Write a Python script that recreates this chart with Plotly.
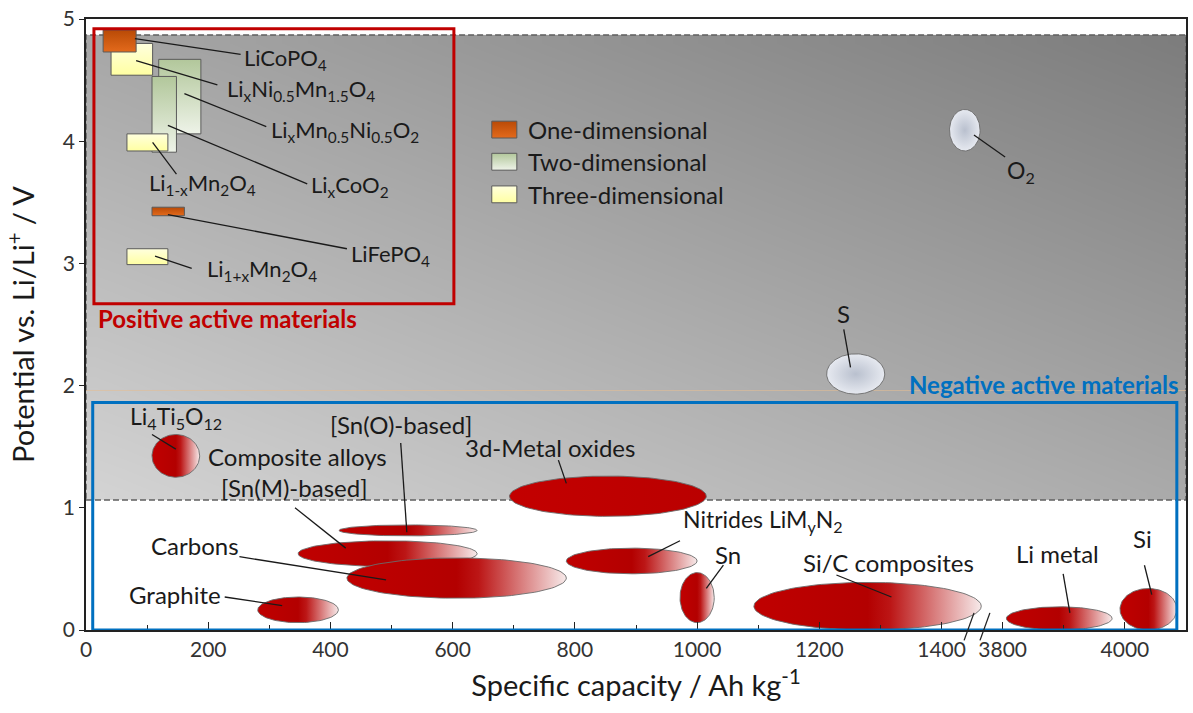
import numpy as np
import plotly.graph_objects as go

# ---------------------------------------------------------------------------
# Capacity axis is broken between ~1450 and ~3750 Ah/kg: values beyond the
# break are shifted left so the axis runs continuously from 0 to 1800 units.
# ---------------------------------------------------------------------------
SHIFT = 2300
X_END = 1800          # axis units (4100 Ah/kg)


def xa(c):
    """Capacity (Ah/kg) -> position on the broken capacity axis."""
    return c - SHIFT if c >= 2600 else c


# ---- positive active materials (rectangles: capacity window x potential window)
pos_names = ["LixMn0.5Ni0.5O2", "LixCoO2", "LixNi0.5Mn1.5O4", "Li1-xMn2O4",
             "Li1+xMn2O4", "LiCoPO4", "LiFePO4"]
pos_dim = [2, 2, 3, 3, 3, 1, 1]                 # diffusion dimensionality
pos_cap_lo = [119, 108, 41, 67, 67, 28, 108]
pos_cap_hi = [188, 148, 109, 134, 134, 82, 161]
pos_v_lo = [4.06, 3.91, 4.54, 3.92, 2.99, 4.73, 3.39]
pos_v_hi = [4.67, 4.53, 4.80, 4.06, 3.12, 4.91, 3.46]

# ---- negative active materials (ellipses)
neg_names = ["Li4Ti5O12", "3d-Metal oxides", "[Sn(O)-based]", "[Sn(M)-based]",
             "Carbons", "Graphite", "Nitrides", "Sn", "Si/C composites",
             "Li metal", "Si"]
neg_cap_lo = [108, 693, 414, 347, 427, 281, 786, 972, 1093, 3806, 3992]
neg_cap_hi = [186, 1015, 640, 640, 786, 413, 1000, 1028, 1465, 3979, 4085]
neg_v_lo = [1.25, 0.93, 0.77, 0.52, 0.26, 0.06, 0.46, 0.06, 0.00, 0.00, 0.00]
neg_v_hi = [1.60, 1.26, 0.86, 0.73, 0.59, 0.27, 0.67, 0.47, 0.39, 0.19, 0.34]
neg_solid = [False, True, False, False, False, False, False, False, False, False, False]

# ---- conversion chemistries (S, O2)
conv_names = ["S", "O2"]
conv_cap_lo = [1212, 1413]
conv_cap_hi = [1307, 1463]
conv_v_lo = [1.93, 3.92]
conv_v_hi = [2.26, 4.26]

# ---- axis ticks
x_tick_caps = [0, 200, 400, 600, 800, 1000, 1200, 1400, 3800, 4000]
x_tick_text = ["0", "200", "400", "600", "800", "1000", "1200", "1400", "3800", "4000"]
x_minor_caps = [100, 300, 500, 700, 900, 1100, 1300, 3900]
y_ticks = [0, 1, 2, 3, 4, 5]

# ---- label placement: text, text pos (cap, V), anchor, size, leader from -> to
labels = [
    # positive side (left-aligned text)
    ("LiCoPO<sub>4</sub>", 256, 4.67, "left", 22, (80, 4.84), (253, 4.71)),
    ("Li<sub>x</sub>Ni<sub>0.5</sub>Mn<sub>1.5</sub>O<sub>4</sub>", 227, 4.42, "left", 22, (82, 4.66), (215, 4.46)),
    ("Li<sub>x</sub>Mn<sub>0.5</sub>Ni<sub>0.5</sub>O<sub>2</sub>", 300, 4.08, "left", 22, (161, 4.39), (295, 4.12)),
    ("Li<sub>x</sub>CoO<sub>2</sub>", 365, 3.63, "left", 22, (134, 4.13), (362, 3.65)),
    ("Li<sub>1-x</sub>Mn<sub>2</sub>O<sub>4</sub>", 100, 3.65, "left", 22, (109, 3.99), (148, 3.73)),
    ("LiFePO<sub>4</sub>", 431, 3.07, "left", 22, (134, 3.40), (427, 3.12)),
    ("Li<sub>1+x</sub>Mn<sub>2</sub>O<sub>4</sub>", 194, 2.95, "left", 22, (113, 3.06), (173, 2.96)),
    # negative side
    ("Li<sub>4</sub>Ti<sub>5</sub>O<sub>12</sub>", 148, 1.74, "center", 23, (147, 1.48), (108, 1.60)),
    ("Composite alloys", 197, 1.42, "left", 24, None, None),
    ("[Sn(O)-based]", 515, 1.68, "center", 24, (525, 0.80), (515, 1.53)),
    ("[Sn(M)-based]", 341, 1.17, "center", 24, (425, 0.67), (342, 1.00)),
    ("Carbons", 178, 0.69, "center", 24, (491, 0.41), (251, 0.60)),
    ("Graphite", 146, 0.29, "center", 24, (321, 0.20), (227, 0.27)),
    ("3d-Metal oxides", 760, 1.49, "center", 24, (786, 1.20), (773, 1.39)),
    ("Nitrides LiM<sub>y</sub>N<sub>2</sub>", 1108, 0.90, "center", 23, (920, 0.60), (972, 0.73)),
    ("Sn", 1050, 0.62, "center", 24, (1015, 0.34), (1043, 0.53)),
    ("Si/C composites", 1313, 0.55, "center", 24, (1318, 0.27), (1228, 0.45)),
    ("Li metal", 3890, 0.63, "center", 24, (3910, 0.14), (3899, 0.46)),
    ("Si", 4028, 0.75, "center", 24, (4044, 0.29), (4032, 0.53)),
    ("S", 1240, 2.59, "center", 24, (1251, 2.15), (1240, 2.46)),
    ("O<sub>2</sub>", 1530, 3.75, "center", 23, (1453, 4.05), (1504, 3.87)),
]

# ---- styling
FONT = "Lato"
TXT = "#1a1a1a"
RED = "#C00000"
BLUE = "#0070C0"
DIM_STYLE = {
    1: [[0, "#E36A1C"], [1, "#B94A06"]],
    2: [[0, "#EEF3E8"], [1, "#B2C79B"]],
    3: [[0, "#FFFFA2"], [1, "#FFFFDE"]],
}
DIM_NAME = {1: "One-dimensional", 2: "Two-dimensional", 3: "Three-dimensional"}
RED_FADE = [[0, "#C00000"], [0.5, "#B30000"], [0.6, "#BC1616"], [1, "#F7EAEA"]]
RED_SOLID = [[0, "#C30000"], [1, "#BA0000"]]
GAS_FILL = [[0, "#B9C0CE"], [1, "#E6E9F0"]]

GRAY_V_LO, GRAY_V_HI = 1.064, 4.87   # shaded stability window

fig = go.Figure()

# shaded window: diagonal grey gradient, light at lower left, dark at upper right
gx = np.linspace(0, X_END, 61)
gy = np.linspace(GRAY_V_LO, GRAY_V_HI, 31)
cx = (gx[:-1] + gx[1:]) / 2
cy = (gy[:-1] + gy[1:]) / 2
gz = 0.48 * (cx[None, :] / X_END) + 0.52 * ((cy[:, None] - GRAY_V_LO) / (GRAY_V_HI - GRAY_V_LO))
fig.add_trace(go.Heatmap(x=gx, y=gy, z=gz, zmin=0, zmax=1, zsmooth="best",
                         colorscale=[[0, "rgb(212,212,212)"], [1, "rgb(124,124,124)"]],
                         showscale=False, hoverinfo="skip"))
fig.add_trace(go.Scatter(x=[0, X_END, X_END, 0, 0],
                         y=[GRAY_V_LO, GRAY_V_LO, GRAY_V_HI, GRAY_V_HI, GRAY_V_LO],
                         mode="lines", line=dict(color="#5f5f5f", width=1.5, dash="6px,3px"),
                         hoverinfo="skip", showlegend=False))
fig.add_trace(go.Scatter(x=[0, X_END], y=[1.96, 1.96], mode="lines",
                         line=dict(color="rgba(226,190,150,0.6)", width=1),
                         hoverinfo="skip", showlegend=False))


def rect_trace(x0, x1, y0, y1, scale, name):
    return go.Scatter(x=[x0, x1, x1, x0, x0], y=[y0, y0, y1, y1, y0], mode="lines",
                      fill="toself", line=dict(color="#5a5a5a", width=1),
                      fillgradient=dict(type="vertical", colorscale=scale),
                      name=name, hoverinfo="name", showlegend=False)


def ellipse_trace(c_lo, c_hi, v_lo, v_hi, grad, name):
    t = np.linspace(0, 2 * np.pi, 121)
    xc = (xa(c_lo) + xa(c_hi)) / 2
    a = (xa(c_hi) - xa(c_lo)) / 2
    yc = (v_lo + v_hi) / 2
    b = (v_hi - v_lo) / 2
    return go.Scatter(x=xc + a * np.cos(t), y=yc + b * np.sin(t), mode="lines",
                      fill="toself", line=dict(color="#6b6b6b", width=0.9),
                      fillgradient=grad, name=name, hoverinfo="name", showlegend=False)


# positive materials
for n, d, c0, c1, v0, v1 in zip(pos_names, pos_dim, pos_cap_lo, pos_cap_hi, pos_v_lo, pos_v_hi):
    fig.add_trace(rect_trace(xa(c0), xa(c1), v0, v1, DIM_STYLE[d], n))

# negative materials
for n, c0, c1, v0, v1, solid in zip(neg_names, neg_cap_lo, neg_cap_hi, neg_v_lo, neg_v_hi, neg_solid):
    grad = dict(type="horizontal", colorscale=RED_SOLID if solid else RED_FADE)
    fig.add_trace(ellipse_trace(c0, c1, v0, v1, grad, n))

# conversion chemistries
for n, c0, c1, v0, v1 in zip(conv_names, conv_cap_lo, conv_cap_hi, conv_v_lo, conv_v_hi):
    fig.add_trace(ellipse_trace(c0, c1, v0, v1, dict(type="radial", colorscale=GAS_FILL), n))

# dimensionality key
key_x0, key_x1 = 664, 705
key_rows = [(1, 4.095), (2, 3.832), (3, 3.565)]
annotations = []
for d, yc in key_rows:
    fig.add_trace(rect_trace(key_x0, key_x1, yc - 0.069, yc + 0.069, DIM_STYLE[d], DIM_NAME[d]))
    annotations.append(dict(x=key_x1 + 15, y=yc, xref="x", yref="y", text=DIM_NAME[d],
                            xanchor="left", yanchor="middle", showarrow=False,
                            font=dict(family=FONT, size=24, color=TXT)))

# labels and leader lines
shapes = []
for text, tx, ty, anchor, size, p_from, p_to in labels:
    annotations.append(dict(x=xa(tx), y=ty, xref="x", yref="y", text=text,
                            xanchor=anchor, yanchor="middle", showarrow=False,
                            font=dict(family=FONT, size=size, color=TXT)))
    if p_from is not None:
        shapes.append(dict(type="line", xref="x", yref="y",
                           x0=xa(p_from[0]), y0=p_from[1], x1=xa(p_to[0]), y1=p_to[1],
                           line=dict(color=TXT, width=1.3), layer="above"))

# group boxes
shapes.append(dict(type="rect", xref="x", yref="y", x0=13, x1=602, y0=2.67, y1=4.92,
                   line=dict(color=RED, width=3), fillcolor="rgba(0,0,0,0)", layer="above"))
shapes.append(dict(type="rect", xref="x", yref="y", x0=11, x1=1785, y0=0.0, y1=1.862,
                   line=dict(color=BLUE, width=3), fillcolor="rgba(0,0,0,0)", layer="above"))
annotations.append(dict(x=17, y=2.55, xref="x", yref="y", text="<b>Positive active materials</b>",
                        xanchor="left", yanchor="middle", showarrow=False,
                        font=dict(family=FONT, size=24, color=RED)))
annotations.append(dict(x=1791, y=2.01, xref="x", yref="y", text="<b>Negative active materials</b>",
                        xanchor="right", yanchor="middle", showarrow=False,
                        font=dict(family=FONT, size=24, color=BLUE)))

# axis-break marks
for pos in (1445, 1471):
    px = pos / X_END
    shapes.append(dict(type="line", xref="paper", yref="paper",
                       x0=px - 0.0045, y0=-0.017, x1=px + 0.0045, y1=0.028,
                       line=dict(color="#222222", width=1.3), layer="above"))

fig.update_layout(
    width=1193, height=713,
    margin=dict(l=86, r=5, t=18, b=83),
    paper_bgcolor="white", plot_bgcolor="white",
    showlegend=False,
    shapes=shapes, annotations=annotations,
    font=dict(family=FONT, color="#333333"),
)
fig.update_xaxes(
    range=[0, X_END], showgrid=False, zeroline=False,
    showline=True, linecolor="#222222", linewidth=1.5, mirror=True,
    ticks="inside", ticklen=8, tickwidth=1.3, tickcolor="#222222",
    tickvals=[xa(c) for c in x_tick_caps], ticktext=x_tick_text,
    tickfont=dict(family=FONT, size=21, color="#333333"),
    minor=dict(tickvals=[xa(c) for c in x_minor_caps], ticks="inside", ticklen=5,
               tickwidth=1.2, tickcolor="#222222"),
    title=dict(text="Specific capacity / Ah kg<sup>-1</sup>",
               font=dict(family=FONT, size=29, color=TXT), standoff=16),
)
fig.update_yaxes(
    range=[0, 5], showgrid=False, zeroline=False,
    showline=True, linecolor="#222222", linewidth=1.5, mirror=True,
    ticks="outside", ticklen=5, tickwidth=1.3, tickcolor="#222222",
    tickvals=y_ticks, tickfont=dict(family=FONT, size=21, color="#333333"),
    title=dict(text="Potential vs. Li/Li<sup>+</sup> / V",
               font=dict(family=FONT, size=29, color=TXT), standoff=20),
)

fig.write_html("out.html")
